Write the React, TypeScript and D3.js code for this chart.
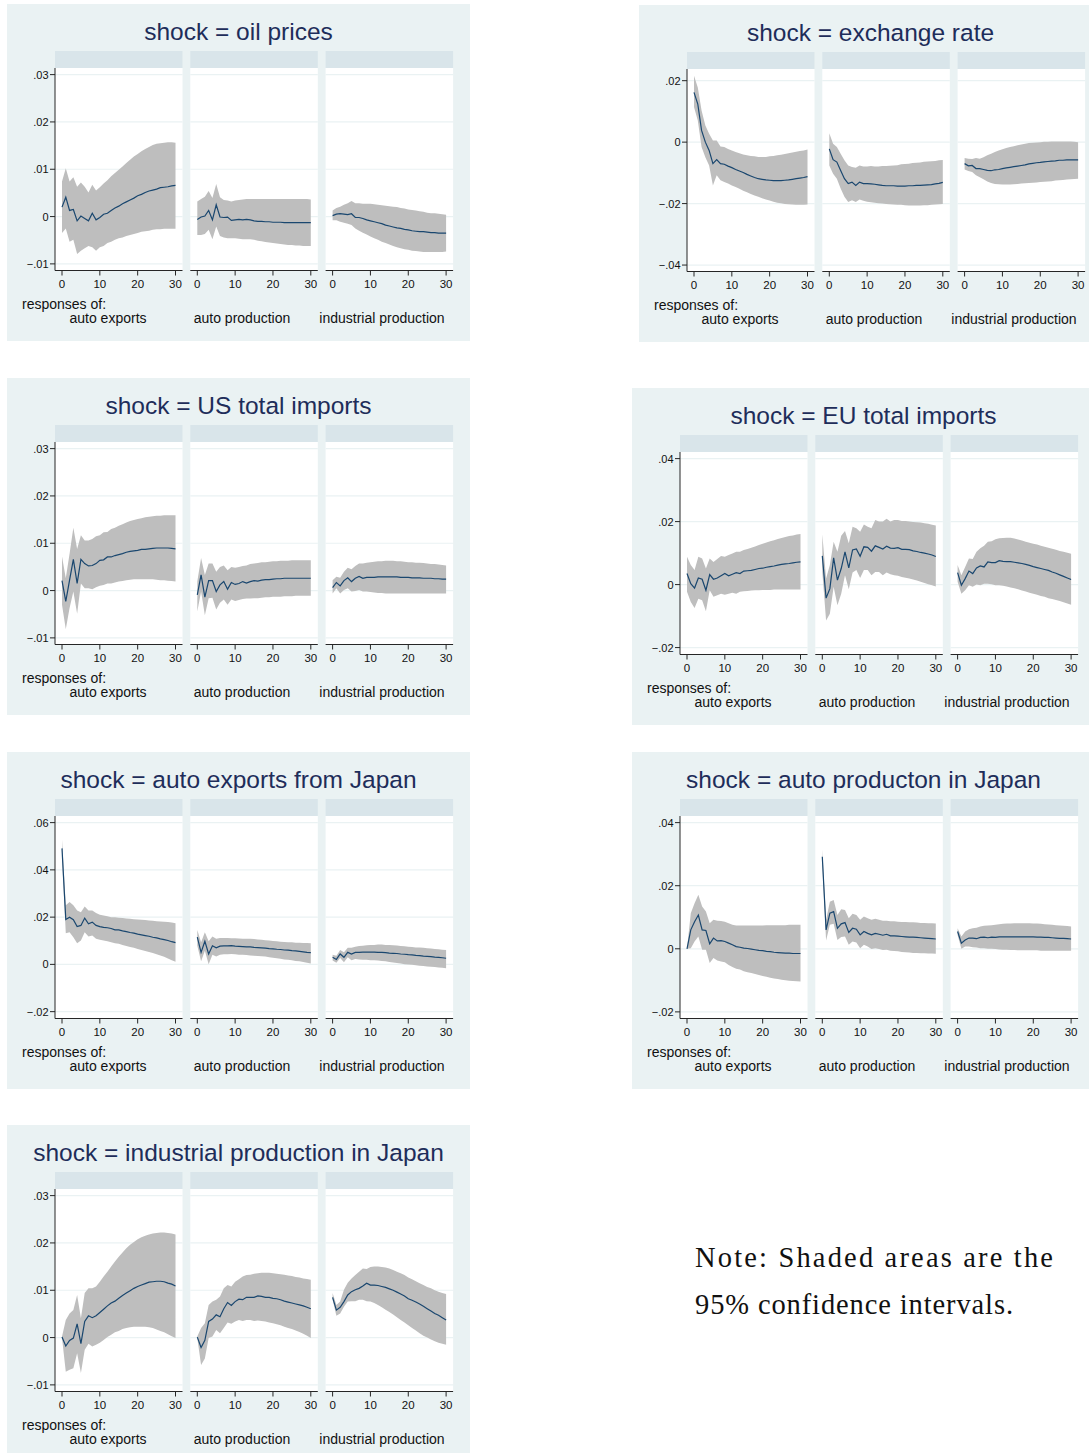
import React from "react";
import * as d3 from "d3";

// All response values are in thousandths (x 0.001)
const UNIT = 0.001;
const horizon = d3.range(0, 31);

const shockTitles = [
  "oil prices",
  "exchange rate",
  "US total imports",
  "EU total imports",
  "auto exports from Japan",
  "auto producton in Japan",
  "industrial production in Japan",
];
const responseLabels = ["auto exports", "auto production", "industrial production"];
const xTicks = [0, 10, 20, 30];
const ticksSmall = [-0.01, 0, 0.01, 0.02, 0.03];
const ticksExch = [-0.04, -0.02, 0, 0.02];
const ticksEU = [-0.02, 0, 0.02, 0.04];
const ticksAutoExp = [-0.02, 0, 0.02, 0.04, 0.06];

// ---- shock = oil prices ----
const oilAeIrf = [2.0,4.1,1.3,1.5,-0.9,0.1,-0.4,-0.9,0.7,-0.7,-0.2,0.5,0.7,1.3,1.8,2.2,2.7,3.1,3.5,3.9,4.4,4.7,5.1,5.4,5.6,5.8,6.1,6.2,6.3,6.5,6.6];
const oilAeLo = [-3.5,-2.5,-5.3,-4.9,-7.9,-7.2,-6.7,-6.2,-6.5,-7.2,-6.5,-6.2,-5.6,-5.3,-4.9,-4.6,-4.4,-4.1,-3.9,-3.7,-3.5,-3.2,-3.1,-3.0,-2.8,-2.7,-2.7,-2.6,-2.6,-2.6,-2.6];
const oilAeHi = [7.4,10.2,7.4,8.3,6.3,7.2,6.3,5.1,6.7,5.5,6.2,7.0,7.7,8.5,9.2,9.9,10.6,11.3,12.0,12.7,13.2,13.8,14.3,14.7,15.1,15.4,15.5,15.6,15.7,15.7,15.6];
const oilApIrf = [-0.6,-0.1,0.1,1.3,-0.7,2.5,-0.1,-0.2,-0.1,-0.8,-0.7,-0.6,-0.7,-0.6,-0.7,-0.9,-1.0,-1.0,-1.1,-1.1,-1.2,-1.2,-1.2,-1.3,-1.3,-1.3,-1.3,-1.3,-1.3,-1.3,-1.3];
const oilApLo = [-3.9,-3.9,-3.7,-2.8,-4.8,-2.1,-4.1,-4.4,-4.6,-4.6,-4.6,-4.7,-4.8,-4.8,-4.8,-4.9,-5.1,-5.2,-5.4,-5.5,-5.6,-5.7,-5.8,-5.9,-6.0,-6.0,-6.1,-6.1,-6.2,-6.2,-6.2];
const oilApHi = [3.2,3.7,4.2,5.4,3.9,6.9,4.1,3.5,3.4,3.2,3.4,3.5,3.6,3.7,3.7,3.7,3.7,3.7,3.7,3.7,3.7,3.7,3.7,3.7,3.7,3.7,3.7,3.7,3.7,3.7,3.6];
const oilIpIrf = [0.2,0.5,0.6,0.5,0.4,0.6,-0.2,-0.2,-0.4,-0.7,-0.9,-1.1,-1.3,-1.5,-1.8,-2.0,-2.2,-2.4,-2.5,-2.7,-2.8,-3.0,-3.1,-3.2,-3.2,-3.3,-3.4,-3.4,-3.5,-3.5,-3.5];
const oilIpLo = [-0.8,-0.8,-1.1,-1.3,-1.5,-1.8,-2.5,-3.0,-3.4,-3.8,-4.2,-4.6,-4.9,-5.3,-5.6,-5.9,-6.2,-6.5,-6.7,-6.9,-7.0,-7.2,-7.3,-7.4,-7.5,-7.5,-7.5,-7.5,-7.5,-7.5,-7.4];
const oilIpHi = [1.3,1.8,2.1,2.5,2.8,3.3,2.8,2.8,2.7,2.7,2.7,2.6,2.5,2.4,2.3,2.2,2.1,2.0,1.8,1.7,1.5,1.4,1.3,1.1,1.0,0.8,0.7,0.7,0.6,0.5,0.4];

// ---- shock = exchange rate ----
const exAeIrf = [16.2,12.4,3.8,0.0,-2.7,-7.0,-5.7,-7.0,-7.2,-7.8,-8.3,-8.9,-9.4,-9.9,-10.5,-11.0,-11.5,-11.9,-12.1,-12.3,-12.4,-12.5,-12.5,-12.5,-12.4,-12.3,-12.1,-11.9,-11.7,-11.5,-11.2];
const exAeLo = [11.4,7.0,-1.6,-4.9,-7.6,-14.1,-10.8,-12.4,-13.0,-13.5,-14.1,-14.6,-15.2,-15.8,-16.3,-16.9,-17.4,-17.8,-18.3,-18.7,-19.0,-19.4,-19.7,-19.9,-20.1,-20.2,-20.3,-20.4,-20.4,-20.4,-20.3];
const exAeHi = [21.6,17.8,10.3,5.4,2.7,0.5,0.5,-1.4,-1.6,-2.2,-2.7,-3.2,-3.6,-4.0,-4.3,-4.5,-4.6,-4.8,-4.8,-4.8,-4.6,-4.5,-4.3,-4.1,-3.9,-3.6,-3.4,-3.1,-2.9,-2.7,-2.4];
const exApIrf = [-2.2,-5.7,-6.5,-9.2,-11.9,-13.5,-13.0,-14.1,-13.0,-13.5,-13.5,-13.6,-13.7,-13.9,-14.1,-14.2,-14.2,-14.2,-14.3,-14.3,-14.3,-14.2,-14.2,-14.1,-14.1,-14.0,-13.9,-13.8,-13.6,-13.4,-13.1];
const exApLo = [-7.6,-10.3,-11.9,-15.1,-17.8,-19.5,-18.9,-19.5,-18.7,-19.1,-19.4,-19.6,-19.7,-19.9,-20.0,-20.1,-20.2,-20.3,-20.4,-20.4,-20.5,-20.6,-20.6,-20.6,-20.6,-20.5,-20.5,-20.4,-20.3,-20.2,-20.1];
const exApHi = [2.9,-0.5,-1.6,-3.8,-5.9,-7.6,-8.1,-8.3,-7.6,-7.9,-7.9,-7.8,-7.9,-7.9,-7.8,-7.8,-7.7,-7.6,-7.5,-7.2,-7.1,-7.0,-6.8,-6.7,-6.6,-6.4,-6.3,-6.2,-6.1,-5.9,-5.8];
const exIpIrf = [-7.0,-7.7,-7.6,-8.6,-8.6,-8.9,-9.2,-9.3,-9.0,-8.9,-8.6,-8.4,-8.2,-8.0,-7.8,-7.6,-7.4,-7.1,-6.9,-6.7,-6.6,-6.4,-6.3,-6.2,-6.1,-5.9,-5.9,-5.8,-5.8,-5.8,-5.8];
const exIpLo = [-8.9,-9.4,-9.7,-10.8,-11.4,-12.1,-12.8,-13.3,-13.6,-13.7,-13.8,-13.8,-13.8,-13.7,-13.6,-13.5,-13.4,-13.3,-13.2,-13.1,-13.0,-12.9,-12.8,-12.7,-12.5,-12.4,-12.3,-12.2,-12.1,-12.0,-11.9];
const exIpHi = [-5.2,-5.4,-5.5,-5.2,-5.4,-4.9,-4.3,-3.8,-3.2,-2.7,-2.3,-1.9,-1.6,-1.3,-1.0,-0.8,-0.5,-0.3,-0.2,-0.1,0.0,0.1,0.1,0.2,0.2,0.2,0.2,0.2,0.2,0.1,0.0];

// ---- shock = US total imports ----
const usAeIrf = [2.1,-2.3,2.2,6.6,1.5,6.6,5.7,5.2,5.3,5.7,6.4,6.5,7.1,7.1,7.4,7.6,7.8,8.1,8.3,8.4,8.5,8.7,8.7,8.8,8.9,9.0,9.0,9.0,9.0,8.9,8.8];
const usAeLo = [-3.0,-8.2,-3.7,-0.2,-4.9,1.5,0.5,0.5,0.3,0.7,1.0,1.2,1.5,1.5,1.7,1.9,2.0,2.2,2.3,2.4,2.4,2.4,2.4,2.4,2.4,2.3,2.2,2.2,2.1,2.0,1.9];
const usAeHi = [7.2,2.6,7.8,13.3,8.8,11.7,10.6,10.6,10.9,11.5,11.7,12.3,12.4,13.0,13.3,13.7,14.0,14.4,14.7,14.9,15.1,15.3,15.5,15.6,15.7,15.8,15.8,15.9,15.9,15.9,15.9];
const usApIrf = [-0.9,3.3,-1.4,2.1,2.1,-0.2,1.2,1.9,0.3,1.7,1.3,1.5,1.9,1.6,1.9,2.1,2.0,2.2,2.3,2.3,2.4,2.5,2.5,2.6,2.6,2.6,2.6,2.6,2.6,2.6,2.6];
const usApLo = [-4.4,-0.2,-5.2,-1.6,-1.5,-4.0,-2.6,-1.9,-3.0,-1.9,-2.2,-2.0,-1.8,-1.7,-1.7,-1.6,-1.6,-1.5,-1.4,-1.4,-1.3,-1.3,-1.3,-1.2,-1.2,-1.2,-1.1,-1.1,-1.1,-1.1,-1.1];
const usApHi = [1.9,6.9,3.3,5.7,5.7,4.0,5.0,5.3,4.3,5.0,4.8,5.0,5.2,5.3,5.6,5.7,5.8,6.0,6.0,6.1,6.2,6.2,6.3,6.3,6.3,6.4,6.4,6.4,6.4,6.4,6.4];
const usIpIrf = [0.6,1.7,1.0,2.1,2.7,1.9,2.6,3.0,2.6,2.8,2.8,2.8,2.9,2.9,2.9,2.9,2.9,2.9,2.8,2.8,2.8,2.7,2.7,2.7,2.6,2.6,2.6,2.5,2.5,2.4,2.4];
const usIpLo = [-0.6,0.5,-0.6,0.1,0.5,-0.2,-0.1,0.1,-0.2,-0.2,-0.3,-0.4,-0.5,-0.5,-0.6,-0.6,-0.6,-0.6,-0.6,-0.6,-0.6,-0.6,-0.6,-0.6,-0.6,-0.6,-0.6,-0.6,-0.6,-0.6,-0.6];
const usIpHi = [2.2,2.9,2.7,4.0,4.8,4.5,5.2,5.7,5.7,5.9,6.0,6.1,6.2,6.2,6.3,6.3,6.3,6.2,6.2,6.1,6.0,6.0,5.9,5.9,5.8,5.7,5.6,5.6,5.5,5.4,5.3];

// ---- shock = EU total imports ----
const euAeIrf = [3.5,0.3,-1.1,2.1,1.7,-1.8,3.2,1.7,2.1,2.8,3.5,2.8,3.3,3.8,3.5,4.3,4.4,4.5,4.8,5.1,5.2,5.5,5.7,5.9,6.2,6.4,6.6,6.7,6.9,7.1,7.2];
const euAeLo = [-2.3,-5.5,-7.4,-4.5,-5.0,-8.5,-1.8,-3.9,-3.4,-2.9,-3.2,-2.9,-2.6,-2.9,-2.3,-2.1,-2.0,-1.9,-1.8,-1.8,-1.7,-1.7,-1.7,-1.6,-1.6,-1.6,-1.6,-1.6,-1.6,-1.6,-1.6];
const euAeHi = [8.8,6.2,4.6,8.8,8.3,5.1,8.3,7.2,8.1,9.1,8.8,9.4,9.9,10.4,10.4,11.0,11.3,11.7,12.1,12.6,13.0,13.4,13.8,14.1,14.5,14.8,15.1,15.4,15.6,15.9,16.1];
const euApIrf = [9.1,-4.3,-1.3,8.5,1.4,5.1,10.4,5.3,11.0,11.3,9.0,12.0,11.8,10.6,12.3,11.8,11.3,12.2,11.6,11.5,11.7,11.2,11.2,11.1,10.7,10.5,10.2,10.0,9.7,9.4,8.9];
const euApLo = [4.0,-11.4,-9.3,-0.7,-6.6,-2.9,3.0,-1.5,3.8,4.6,2.1,4.6,4.6,3.0,4.0,4.0,3.0,3.8,3.3,3.0,2.8,2.4,2.2,1.9,1.6,1.3,0.9,0.5,0.1,-0.2,-0.6];
const euApHi = [16.0,1.9,6.2,13.6,10.4,15.5,17.0,13.1,18.4,17.9,16.8,19.1,18.4,17.9,20.5,20.0,20.0,20.9,20.0,20.5,20.5,20.2,20.2,20.0,19.9,19.8,19.7,19.5,19.3,19.0,18.8];
const euIpIrf = [3.8,-0.2,1.9,4.3,3.5,5.3,5.9,5.6,7.2,7.0,7.0,7.6,7.4,7.3,7.3,7.1,6.9,6.7,6.4,6.1,5.7,5.4,5.1,4.8,4.5,4.0,3.6,3.1,2.6,2.1,1.6];
const euIpLo = [0.9,-2.9,-1.8,-0.2,-0.7,0.0,-0.2,0.3,0.3,0.1,-0.2,-0.2,-0.4,-0.6,-0.9,-1.2,-1.5,-1.9,-2.2,-2.6,-2.9,-3.2,-3.6,-3.9,-4.3,-4.6,-4.9,-5.2,-5.6,-6.0,-6.4];
const euIpHi = [6.2,3.0,5.6,8.3,8.1,10.4,11.5,12.3,13.6,13.8,14.4,14.7,14.8,14.9,14.9,14.6,14.3,14.0,13.6,13.3,13.0,12.7,12.3,12.0,11.7,11.4,11.1,10.7,10.4,10.1,9.8];

// ---- shock = auto exports from Japan ----
const axAeIrf = [49.1,19.0,20.0,18.9,16.0,16.5,19.6,17.2,17.9,16.5,16.0,15.7,15.5,15.2,14.6,14.6,14.2,13.9,13.5,13.2,12.8,12.5,12.2,11.9,11.5,11.2,10.8,10.5,10.1,9.6,9.2];
const axAeLo = [45.5,13.2,13.6,11.5,8.9,10.1,13.6,11.8,12.2,10.8,10.4,10.1,9.8,9.4,8.9,8.7,8.2,7.8,7.4,7.0,6.5,6.1,5.7,5.2,4.8,4.3,3.8,3.2,2.5,1.8,1.1];
const axAeHi = [52.9,25.0,26.4,25.0,22.8,22.1,24.5,22.8,22.8,21.7,21.0,20.7,20.4,20.0,20.0,19.7,19.6,19.4,19.3,19.1,19.0,18.9,18.8,18.6,18.5,18.3,18.2,18.0,17.9,17.7,17.4];
const axApIrf = [11.5,5.1,9.8,4.4,7.9,7.0,7.7,7.8,7.8,7.9,7.7,7.6,7.5,7.4,7.4,7.2,7.1,7.0,6.9,6.7,6.6,6.4,6.3,6.1,6.0,5.8,5.7,5.5,5.3,5.1,5.0];
const axApLo = [7.9,1.3,5.8,0.1,4.1,3.3,4.1,4.3,4.3,4.4,4.3,4.1,4.1,4.0,3.8,3.7,3.5,3.4,3.3,3.0,2.8,2.6,2.4,2.1,2.0,1.7,1.4,1.3,1.0,0.7,0.4];
const axApHi = [14.6,9.4,13.6,9.8,11.8,10.8,11.2,11.2,11.2,11.1,11.1,11.0,10.9,10.8,10.8,10.7,10.5,10.4,10.2,10.1,9.9,9.8,9.6,9.5,9.4,9.4,9.2,9.2,9.1,9.1,8.9];
const axIpIrf = [3.0,2.1,4.4,3.0,5.1,4.4,5.1,5.1,5.2,5.2,5.2,5.2,5.1,5.1,5.0,4.8,4.7,4.6,4.4,4.3,4.1,4.0,3.8,3.7,3.5,3.4,3.3,3.1,3.0,2.8,2.6];
const axIpLo = [1.6,0.7,2.7,0.9,3.0,1.8,2.3,2.1,2.0,2.0,1.8,1.7,1.6,1.4,1.3,1.0,0.8,0.6,0.4,0.1,0.0,-0.1,-0.4,-0.6,-0.7,-0.9,-1.0,-1.1,-1.3,-1.4,-1.6];
const axIpHi = [4.1,3.7,6.1,5.1,7.0,7.0,7.5,7.8,7.9,8.1,8.2,8.2,8.4,8.4,8.2,8.2,8.1,8.0,7.8,7.7,7.5,7.4,7.2,7.1,7.0,6.8,6.7,6.5,6.4,6.2,6.1];

// ---- shock = auto production in Japan ----
const apAeIrf = [0.0,6.0,8.6,10.7,6.0,5.8,1.6,3.4,2.5,2.6,2.3,1.8,1.3,0.7,0.5,0.2,0.1,-0.1,-0.3,-0.5,-0.6,-0.8,-0.9,-1.1,-1.2,-1.3,-1.4,-1.4,-1.5,-1.5,-1.5];
const apAeLo = [0.0,0.2,2.3,3.9,-0.3,-0.3,-4.5,-2.9,-3.7,-4.0,-4.3,-5.1,-5.8,-6.3,-6.6,-7.1,-7.4,-7.7,-8.0,-8.3,-8.6,-8.9,-9.2,-9.4,-9.6,-9.8,-10.0,-10.1,-10.2,-10.3,-10.4];
const apAeHi = [0.0,11.3,14.4,17.1,13.4,11.8,8.1,9.2,8.9,8.8,8.6,8.1,7.6,7.4,7.4,7.4,7.4,7.4,7.4,7.4,7.4,7.5,7.5,7.5,7.5,7.5,7.5,7.6,7.6,7.6,7.6];
const apApIrf = [29.2,6.0,11.3,11.8,6.5,7.9,8.3,5.2,6.5,6.2,4.4,5.5,4.9,4.4,4.9,4.6,4.3,4.6,4.1,4.1,4.0,3.9,3.8,3.7,3.7,3.6,3.5,3.4,3.3,3.2,3.1];
const apApLo = [26.5,2.6,7.6,7.9,2.8,3.7,3.9,1.3,2.3,2.0,0.2,1.3,0.7,-0.1,0.2,-0.1,-0.4,-0.3,-0.6,-0.7,-0.8,-1.0,-1.1,-1.2,-1.3,-1.3,-1.4,-1.4,-1.5,-1.5,-1.6];
const apApHi = [31.5,9.2,14.9,15.5,10.7,12.5,12.3,9.7,11.1,10.7,9.2,10.2,9.7,9.2,9.5,9.2,8.9,8.9,8.7,8.7,8.6,8.5,8.5,8.4,8.4,8.3,8.2,8.2,8.1,8.1,8.0];
const apIpIrf = [5.5,1.8,2.8,3.4,3.4,3.2,3.6,3.7,3.5,3.7,3.6,3.8,3.8,3.8,3.8,3.8,3.8,3.8,3.8,3.8,3.8,3.7,3.7,3.6,3.6,3.5,3.4,3.3,3.3,3.2,3.1];
const apIpLo = [4.4,0.0,0.7,0.7,0.5,0.4,0.2,0.2,0.0,0.0,-0.1,-0.2,-0.3,-0.3,-0.4,-0.4,-0.5,-0.5,-0.5,-0.5,-0.5,-0.5,-0.6,-0.6,-0.6,-0.6,-0.6,-0.6,-0.6,-0.6,-0.6];
const apIpHi = [6.5,3.9,5.5,6.2,6.5,6.7,7.1,7.3,7.4,7.5,7.6,7.8,7.9,8.0,8.0,8.1,8.1,8.1,8.1,8.1,8.0,8.0,7.9,7.8,7.7,7.6,7.5,7.4,7.3,7.2,7.1];

// ---- shock = industrial production in Japan ----
const ipAeIrf = [0.1,-1.8,-0.6,-0.1,2.9,-1.3,3.4,4.6,4.2,4.6,5.3,6.0,6.7,7.3,7.7,8.3,8.9,9.4,9.9,10.4,10.8,11.1,11.4,11.7,11.8,11.9,11.9,11.8,11.5,11.3,10.9];
const ipAeLo = [-0.1,-7.2,-6.8,-6.5,-3.3,-7.5,-2.6,-1.3,-1.9,-1.5,-1.1,-0.5,0.1,0.6,1.1,1.4,1.8,2.0,2.2,2.3,2.3,2.3,2.3,2.2,2.0,1.7,1.4,1.1,0.7,0.3,-0.1];
const ipAeHi = [0.2,3.7,5.1,5.8,9.0,4.1,9.4,10.4,10.4,10.8,11.8,12.9,13.9,15.0,16.1,17.1,18.0,18.9,19.6,20.2,20.8,21.2,21.5,21.8,22.0,22.1,22.2,22.2,22.1,22.0,21.8];
const ipApIrf = [0.1,-2.1,-0.6,3.4,3.9,4.8,4.4,6.1,7.4,6.8,7.6,8.1,8.0,8.5,8.5,8.5,8.8,8.7,8.5,8.5,8.3,8.2,8.0,7.7,7.5,7.3,7.1,6.9,6.7,6.4,6.1];
const ipApLo = [-0.1,-5.8,-4.4,-0.1,0.2,1.6,0.9,2.0,3.2,2.9,3.4,3.7,3.5,3.7,3.7,3.5,3.6,3.5,3.4,3.2,3.0,2.8,2.6,2.3,2.0,1.8,1.5,1.2,0.8,0.4,-0.1];
const ipApHi = [0.2,2.0,3.0,6.9,7.6,8.0,8.7,10.4,11.1,10.8,11.8,12.3,12.9,13.2,13.3,13.5,13.6,13.7,13.7,13.7,13.6,13.5,13.4,13.3,13.1,13.0,12.8,12.7,12.5,12.4,12.2];
const ipIpIrf = [8.5,5.8,6.4,7.6,9.0,9.7,10.1,10.4,10.9,11.5,11.1,11.1,11.0,10.8,10.6,10.3,10.0,9.6,9.2,8.8,8.2,7.9,7.5,7.1,6.6,6.1,5.6,5.1,4.7,4.2,3.7];
const ipIpLo = [8.0,4.6,5.1,6.5,7.6,7.7,7.7,8.0,8.0,7.7,7.6,7.3,6.9,6.4,5.9,5.4,4.9,4.3,3.7,3.2,2.6,2.0,1.5,0.9,0.4,0.0,-0.4,-0.8,-1.1,-1.3,-1.5];
const ipIpHi = [9.4,6.9,7.6,10.1,11.6,12.5,13.2,13.9,14.6,14.5,14.9,15.0,15.0,14.9,14.8,14.6,14.3,13.9,13.6,13.2,12.7,12.3,11.9,11.5,11.1,10.7,10.4,10.0,9.7,9.4,9.2];

const noteLines = ["Note: Shaded areas are the", "95% confidence intervals."];

// ---------- layout & styles ----------
const W = 1089;
const H = 1453;
const BOX_W = 463;
const BOX_H = 337;
const STRIP_TOP = 47;
const PLOT_TOP = 64;
const AXIS_Y = 266.5;
const SUB_X0 = 48;
const SUB_W = 127.5;
const SUB_STEP = 135.3;
const X_PAD_L = 7;
const X_PAD_R = 7;
const respLabelX = [101, 235, 375];

const BG = "#EAF2F3";
const STRIP = "#D9E5EA";
const GRID = "#EAF2F3";
const CI = "#BEBEBE";
const LINE = "#1A476F";
const TITLE = "#1E2D5A";
const AXIS = "#262626";
const FONT = "'Liberation Sans', Arial, Helvetica, sans-serif";
const SERIF = "'Liberation Serif', 'DejaVu Serif', serif";

const panelPos = [
  { x: 7, y: 4 },
  { x: 639, y: 5 },
  { x: 7, y: 378 },
  { x: 632, y: 388 },
  { x: 7, y: 752 },
  { x: 632, y: 752 },
  { x: 7, y: 1125 },
];

const panels = [
  { ticks: ticksSmall, domain: [-0.0114, 0.0314], series: [[oilAeIrf, oilAeLo, oilAeHi], [oilApIrf, oilApLo, oilApHi], [oilIpIrf, oilIpLo, oilIpHi]] },
  { ticks: ticksExch, domain: [-0.0421, 0.0238], series: [[exAeIrf, exAeLo, exAeHi], [exApIrf, exApLo, exApHi], [exIpIrf, exIpLo, exIpHi]] },
  { ticks: ticksSmall, domain: [-0.0114, 0.0314], series: [[usAeIrf, usAeLo, usAeHi], [usApIrf, usApLo, usApHi], [usIpIrf, usIpLo, usIpHi]] },
  { ticks: ticksEU, domain: [-0.0222, 0.0421], series: [[euAeIrf, euAeLo, euAeHi], [euApIrf, euApLo, euApHi], [euIpIrf, euIpLo, euIpHi]] },
  { ticks: ticksAutoExp, domain: [-0.0229, 0.0628], series: [[axAeIrf, axAeLo, axAeHi], [axApIrf, axApLo, axApHi], [axIpIrf, axIpLo, axIpHi]] },
  { ticks: ticksEU, domain: [-0.0221, 0.0421], series: [[apAeIrf, apAeLo, apAeHi], [apApIrf, apApLo, apApHi], [apIpIrf, apIpLo, apIpHi]] },
  { ticks: ticksSmall, domain: [-0.0114, 0.0314], series: [[ipAeIrf, ipAeLo, ipAeHi], [ipApIrf, ipApLo, ipApHi], [ipIpIrf, ipIpLo, ipIpHi]] },
];

const fmtTick = (v: number) => {
  if (Math.abs(v) < 1e-12) return "0";
  return d3.format(".2f")(v).replace("0.", ".");
};

function Panel({ idx }: { idx: number }) {
  const p = panels[idx];
  const pos = panelPos[idx];
  const y = d3.scaleLinear().domain(p.domain).range([AXIS_Y, PLOT_TOP]);
  return (
    <g transform={`translate(${pos.x},${pos.y})`}>
      <rect x={0} y={0} width={BOX_W} height={BOX_H} fill={BG} />
      <text
        x={BOX_W / 2}
        y={35.5}
        textAnchor="middle"
        fontFamily={FONT}
        fontSize={24.5}
        fill={TITLE}
      >
        {`shock = ${shockTitles[idx]}`}
      </text>
      {p.series.map((s, j) => {
        const sx = SUB_X0 + j * SUB_STEP;
        const x = d3.scaleLinear().domain([0, 30]).range([sx + X_PAD_L, sx + SUB_W - X_PAD_R]);
        const [irf, lo, hi] = s;
        const area = d3
          .area<number>()
          .x((t) => x(t))
          .y0((t) => y(lo[t] * UNIT))
          .y1((t) => y(hi[t] * UNIT));
        const line = d3
          .line<number>()
          .x((t) => x(t))
          .y((t) => y(irf[t] * UNIT));
        return (
          <g key={j}>
            <rect x={sx} y={STRIP_TOP} width={SUB_W} height={PLOT_TOP - STRIP_TOP} fill={STRIP} />
            <rect x={sx} y={PLOT_TOP} width={SUB_W} height={AXIS_Y - PLOT_TOP} fill="#ffffff" />
            {p.ticks.map((tv) => (
              <line key={tv} x1={sx} x2={sx + SUB_W} y1={y(tv)} y2={y(tv)} stroke={GRID} strokeWidth={1.2} />
            ))}
            <path d={area(horizon) || ""} fill={CI} stroke="none" />
            <path d={line(horizon) || ""} fill="none" stroke={LINE} strokeWidth={1.2} />
            <line x1={sx} x2={sx + SUB_W} y1={AXIS_Y} y2={AXIS_Y} stroke={AXIS} strokeWidth={1} />
            {xTicks.map((tv) => (
              <g key={tv}>
                <line x1={x(tv)} x2={x(tv)} y1={AXIS_Y} y2={AXIS_Y + 5} stroke={AXIS} strokeWidth={1} />
                <text
                  x={x(tv)}
                  y={AXIS_Y + 17.5}
                  textAnchor="middle"
                  fontFamily={FONT}
                  fontSize={11.5}
                  fill="#111"
                >
                  {tv}
                </text>
              </g>
            ))}
            <text
              x={respLabelX[j]}
              y={318.5}
              textAnchor="middle"
              fontFamily={FONT}
              fontSize={14}
              fill="#111"
            >
              {responseLabels[j]}
            </text>
          </g>
        );
      })}
      <line x1={SUB_X0} x2={SUB_X0} y1={PLOT_TOP} y2={AXIS_Y} stroke={AXIS} strokeWidth={1} />
      {p.ticks.map((tv) => (
        <g key={tv}>
          <line x1={SUB_X0 - 5} x2={SUB_X0} y1={y(tv)} y2={y(tv)} stroke={AXIS} strokeWidth={1} />
          <text
            x={SUB_X0 - 6.5}
            y={y(tv) + 4}
            textAnchor="end"
            fontFamily={FONT}
            fontSize={11}
            fill="#111"
          >
            {fmtTick(tv)}
          </text>
        </g>
      ))}
      <text x={15} y={304.5} fontFamily={FONT} fontSize={14} fill="#111">
        responses of:
      </text>
    </g>
  );
}

export default function App() {
  return (
    <svg
      width={W}
      height={H}
      viewBox={`0 0 ${W} ${H}`}
      style={{ position: "absolute", left: 0, top: 0, background: "#ffffff" }}
    >
      <rect x={0} y={0} width={W} height={H} fill="#ffffff" />
      {panels.map((_, i) => (
        <Panel key={i} idx={i} />
      ))}
      <text
        x={695}
        y={1267}
        fontFamily={SERIF}
        fontSize={28.5}
        fill="#111"
        textLength={358}
        lengthAdjust="spacing"
      >
        {noteLines[0]}
      </text>
      <text
        x={695}
        y={1314}
        fontFamily={SERIF}
        fontSize={28.5}
        fill="#111"
        textLength={318}
        lengthAdjust="spacing"
      >
        {noteLines[1]}
      </text>
    </svg>
  );
}
